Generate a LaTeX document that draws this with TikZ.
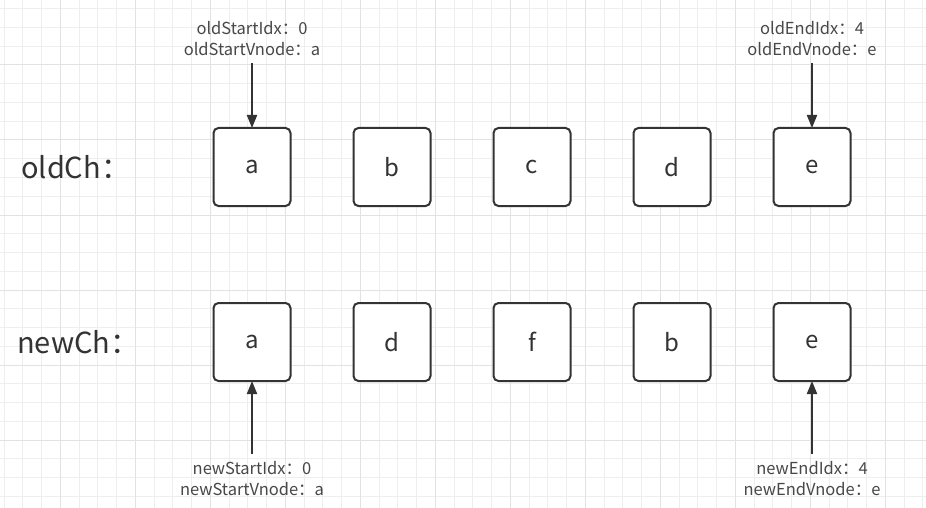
\documentclass[tikz,border=0pt]{standalone}
\usepackage{fontspec}
\setmainfont{Noto Sans CJK SC}
\usetikzlibrary{arrows.meta,positioning,backgrounds}
\definecolor{GridMinor}{RGB}{238,238,238}
\definecolor{GridMajor}{RGB}{226,226,226}
\definecolor{EdgeGray}{RGB}{51,51,51}
\definecolor{TagGray}{RGB}{72,72,72}

\begin{document}
\begin{tikzpicture}[
    x=1pt, y=-1pt,
    >={Triangle[width=10pt,length=13pt]},
    node distance=63pt,
    cell/.style={rectangle, rounded corners=5pt, draw=EdgeGray, line width=2pt,
                 minimum width=77pt, minimum height=78pt, inner sep=0pt,
                 outer sep=0pt, fill=white, text=EdgeGray,
                 font=\fontsize{24}{28}\selectfont},
    rowlbl/.style={anchor=west, inner sep=0pt, text=EdgeGray,
                   font=\fontsize{29}{34}\selectfont},
    tag/.style={align=center, inner xsep=0pt, inner ysep=7pt, outer sep=0pt,
                text=TagGray, font=\fontsize{16.5}{21}\selectfont},
    arr/.style={->, line width=2pt, color=EdgeGray},
]

% ── canvas and grid ──
\useasboundingbox (0,0) rectangle (926,508);
\begin{scope}[on background layer]
  \fill[white] (0,0) rectangle (926,508);
  \clip (0,0) rectangle (926,508);
  \draw[GridMinor, line width=1pt, shift={(4,8.75)}] (-20,-20) grid[step=18.75pt] (940,520);
  \draw[GridMajor, line width=1pt, shift={(60,65)}] (-80,-80) grid[step=75pt] (940,520);
\end{scope}

% ── old children ──
\node[rowlbl] (oldlbl) at (21,167) {oldCh：};
\node[cell] (oa) at (252,167) {a};
\node[cell, right=of oa] (ob) {b};
\node[cell, right=of ob] (oc) {c};
\node[cell, right=of oc] (od) {d};
\node[cell, right=of od] (oe) {e};

% ── new children ──
\node[rowlbl] (newlbl) at (17,342) {newCh：};
\node[cell] (na) at (252,342) {a};
\node[cell, right=of na] (nd) {d};
\node[cell, right=of nd] (nf) {f};
\node[cell, right=of nf] (nb) {b};
\node[cell, right=of nb] (ne) {e};

% ── pointers on the old list ──
\node[tag, above=65pt of oa] (oldstart) {oldStartIdx：0\\oldStartVnode：a};
\node[tag, above=65pt of oe] (oldend) {oldEndIdx：4\\oldEndVnode：e};
\draw[arr] (oldstart) -- (oa);
\draw[arr] (oldend) -- (oe);

% ── pointers on the new list ──
\node[tag, below=73pt of na] (newstart) {newStartIdx：0\\newStartVnode：a};
\node[tag, below=73pt of ne] (newend) {newEndIdx：4\\newEndVnode：e};
\draw[arr] (newstart) -- (na);
\draw[arr] (newend) -- (ne);

\end{tikzpicture}
\end{document}
